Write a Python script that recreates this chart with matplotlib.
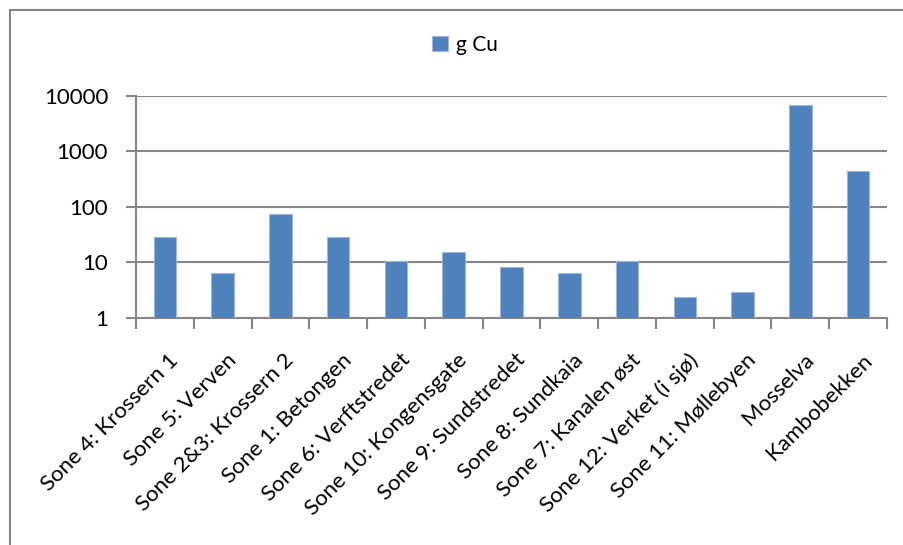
import matplotlib
matplotlib.use("Agg")
import matplotlib.pyplot as plt
from matplotlib.patches import Rectangle
from matplotlib.ticker import FixedLocator, NullLocator

plt.rcParams["font.family"] = ["Lato", "DejaVu Sans"]

categories = [
    "Sone 4: Krossern 1", "Sone 5: Verven", "Sone 2&3: Krossern 2",
    "Sone 1: Betongen", "Sone 6: Verftstredet", "Sone 10: Kongensgate",
    "Sone 9: Sundstredet", "Sone 8: Sundkaia", "Sone 7: Kanalen øst",
    "Sone 12: Verket (i sjø)", "Sone 11: Møllebyen", "Mosselva", "Kambobekken",
]
g_cu = [29, 6.6, 74, 29, 10.6, 15.5, 8.4, 6.6, 10.6, 2.4, 3.0, 6800, 450]
y_ticks = [1, 10, 100, 1000, 10000]
y_labels = ["1", "10", "100", "1000", "10000"]

BAR = "#4F81BD"
GRID = "#868686"

fig = plt.figure(figsize=(9.04, 5.45), dpi=100)
ax = fig.add_axes([0.1504, 0.4165, 0.8308, 0.4074])

# chart frame (only top/left visible in the crop)
fig.patches.append(Rectangle((9.5 / 904, -0.1), 1.2, 1 - 9.5 / 545 + 0.1,
                             transform=fig.transFigure, fill=False,
                             edgecolor=GRID, linewidth=1.5))

x = range(len(categories))
ax.bar(x, g_cu, width=0.39, color=BAR, edgecolor="#9DB6D9", linewidth=0.8,
       label="g Cu", zorder=3)
ax.set_yscale("log")
ax.set_ylim(1, 10000)
ax.set_xlim(-0.5, len(categories) - 0.5)

ax.yaxis.set_major_locator(FixedLocator(y_ticks))
ax.yaxis.set_minor_locator(NullLocator())
ax.set_yticklabels(y_labels, fontsize=16)
ax.grid(axis="y", color=GRID, linewidth=1.5, zorder=0)

ax.set_xticks([i + 0.06 for i in x])
ax.set_xticklabels(categories, rotation=45, ha="right", rotation_mode="anchor",
                   fontsize=16)
ax.xaxis.set_minor_locator(FixedLocator([i - 0.5 for i in range(len(categories) + 1)]))
ax.tick_params(axis="x", which="major", length=0, pad=23)
ax.tick_params(axis="x", which="minor", length=8, width=1.5, color=GRID, direction="out")
ax.tick_params(axis="y", length=7, width=1.5, color=GRID, pad=13)

for side in ["top", "right"]:
    ax.spines[side].set_visible(False)
for side in ["left", "bottom"]:
    ax.spines[side].set_color(GRID)
    ax.spines[side].set_linewidth(1.5)

fig.legend(loc="center", bbox_to_anchor=(465 / 904, 1 - 45 / 545), frameon=False,
           fontsize=15, handlelength=0.75, handleheight=0.75, handletextpad=0.4)

fig.savefig("out.png", dpi=100)
